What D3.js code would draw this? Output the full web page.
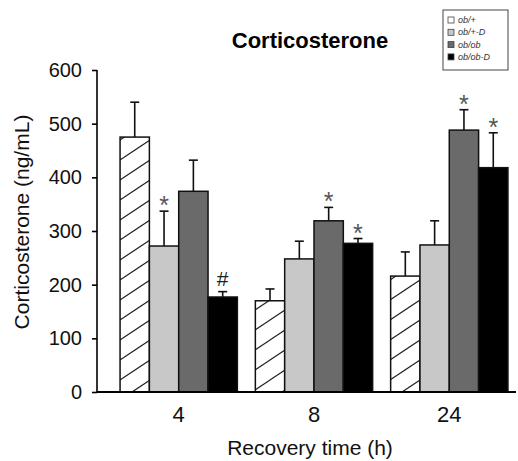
<!DOCTYPE html>
<html>
<head>
<meta charset="utf-8">
<script src="https://cdn.jsdelivr.net/npm/d3@7"></script>
<style>
  body { margin: 0; background: #fff; }
  svg { font-family: "Liberation Sans", Arial, sans-serif; }
</style>
</head>
<body>
<svg width="518" height="461"></svg>
<script>
const svg = d3.select("svg");
const width = +svg.attr("width");
const height = +svg.attr("height");

// data
const times = ["4", "8", "24"];
const series = ["ob/+", "ob/+-D", "ob/ob", "ob/ob-D"];
const means = {
  "ob/+":    [475, 170, 216],
  "ob/+-D":  [272, 248, 274],
  "ob/ob":   [374, 319, 488],
  "ob/ob-D": [177, 277, 418]
};
const errors = {
  "ob/+":    [65, 22, 45],
  "ob/+-D":  [65, 33, 45],
  "ob/ob":   [58, 25, 38],
  "ob/ob-D": [10, 9, 65]
};
const marks = {
  "ob/+":    ["", "", ""],
  "ob/+-D":  ["*", "", ""],
  "ob/ob":   ["", "*", "*"],
  "ob/ob-D": ["#", "*", "*"]
};
const yTicks = [0, 100, 200, 300, 400, 500, 600];

const fills = {
  "ob/+": "url(#hatch)",
  "ob/+-D": "#c8c8c8",
  "ob/ob": "#6a6a6a",
  "ob/ob-D": "#000"
};

const plotLeft = 97, plotRight = 516, plotTop = 70, plotBottom = 392;

const x = d3.scaleBand()
  .domain(times)
  .range([111, 517])
  .paddingInner(0.133)
  .paddingOuter(0.067);
const xSub = d3.scaleBand()
  .domain(series)
  .range([0, x.bandwidth()]);
const y = d3.scaleLinear()
  .domain([0, 600])
  .range([plotBottom, plotTop]);

// hatch pattern
const defs = svg.append("defs");
const pat = defs.append("pattern")
  .attr("id", "hatch")
  .attr("patternUnits", "userSpaceOnUse")
  .attr("width", 30)
  .attr("height", 20);
pat.append("rect").attr("width", 30).attr("height", 20).attr("fill", "#fff");
["M-30,40L60,-20", "M-30,20L60,-40", "M-30,60L60,0"].forEach(d => {
  pat.append("path").attr("d", d).attr("stroke", "#222").attr("stroke-width", 1.2);
});

// rows: one per bar
const rows = [];
times.forEach((t, i) => {
  series.forEach(s => {
    rows.push({ time: t, series: s, mean: means[s][i], err: errors[s][i], mark: marks[s][i] });
  });
});

const bars = svg.append("g");
bars.selectAll("rect")
  .data(rows)
  .enter()
  .append("rect")
  .attr("x", d => x(d.time) + xSub(d.series))
  .attr("y", d => y(d.mean))
  .attr("width", xSub.bandwidth())
  .attr("height", d => y(0) - y(d.mean))
  .attr("fill", d => fills[d.series])
  .attr("stroke", "#111")
  .attr("stroke-width", 1.5);

// error bars
const eb = svg.append("g").attr("stroke", "#111").attr("stroke-width", 1.6);
eb.selectAll("line.v")
  .data(rows)
  .enter()
  .append("line")
  .attr("class", "v")
  .attr("x1", d => x(d.time) + xSub(d.series) + xSub.bandwidth() / 2)
  .attr("x2", d => x(d.time) + xSub(d.series) + xSub.bandwidth() / 2)
  .attr("y1", d => y(d.mean))
  .attr("y2", d => y(d.mean + d.err));
eb.selectAll("line.c")
  .data(rows)
  .enter()
  .append("line")
  .attr("class", "c")
  .attr("x1", d => x(d.time) + xSub(d.series) + xSub.bandwidth() / 2 - 4.5)
  .attr("x2", d => x(d.time) + xSub(d.series) + xSub.bandwidth() / 2 + 4.5)
  .attr("y1", d => y(d.mean + d.err))
  .attr("y2", d => y(d.mean + d.err));

// significance marks
svg.append("g")
  .selectAll("text")
  .data(rows.filter(d => d.mark))
  .enter()
  .append("text")
  .attr("x", d => x(d.time) + xSub(d.series) + xSub.bandwidth() / 2)
  .attr("y", d => y(d.mean + d.err) - (d.mark === "#" ? 6 : -3))
  .attr("text-anchor", "middle")
  .attr("font-size", d => d.mark === "#" ? 21 : 25)
  .attr("fill", d => d.mark === "#" ? "#222" : "#555")
  .text(d => d.mark);

// y axis
const yAxis = svg.append("g")
  .attr("transform", `translate(${plotLeft},0)`)
  .call(d3.axisLeft(y).tickValues(yTicks).tickSize(5).tickSizeOuter(0).tickPadding(10));
yAxis.selectAll("path, line").attr("stroke", "#000").attr("stroke-width", 1.6);
yAxis.selectAll("text").attr("font-size", 20).attr("fill", "#111");
yAxis.select(".domain").attr("d", `M0,${plotTop}V${plotBottom}`);

// x axis
const xAxis = svg.append("g")
  .attr("transform", `translate(0,${plotBottom})`)
  .call(d3.axisBottom(x).tickSize(0).tickPadding(14));
xAxis.select(".domain").remove();
xAxis.selectAll("text").attr("font-size", 22).attr("fill", "#111");
svg.append("line")
  .attr("x1", plotLeft).attr("x2", plotRight)
  .attr("y1", plotBottom).attr("y2", plotBottom)
  .attr("stroke", "#000").attr("stroke-width", 2);

// titles
svg.append("text")
  .attr("x", 310).attr("y", 48)
  .attr("text-anchor", "middle")
  .attr("font-size", 22).attr("font-weight", "bold")
  .text("Corticosterone");
svg.append("text")
  .attr("x", 310).attr("y", 455)
  .attr("text-anchor", "middle")
  .attr("font-size", 21).attr("fill", "#111")
  .text("Recovery time (h)");
svg.append("text")
  .attr("transform", "translate(29,222) rotate(-90)")
  .attr("text-anchor", "middle")
  .attr("font-size", 21).attr("fill", "#111")
  .text("Corticosterone (ng/mL)");

// legend
const legend = svg.append("g").attr("transform", "translate(443,10)");
legend.append("rect")
  .attr("width", 65).attr("height", 60)
  .attr("fill", "#fff").attr("stroke", "#444").attr("stroke-width", 1);
const item = legend.selectAll("g")
  .data(series)
  .enter()
  .append("g")
  .attr("transform", (d, i) => `translate(5, ${10 + i * 12.3})`);
item.append("rect")
  .attr("x", 0).attr("y", -3)
  .attr("width", 6).attr("height", 6)
  .attr("fill", d => d === "ob/+" ? "#fff" : fills[d])
  .attr("stroke", "#444").attr("stroke-width", 0.8);
item.append("text")
  .attr("x", 10).attr("y", 3)
  .attr("font-size", 9).attr("font-style", "italic").attr("fill", "#333")
  .text(d => d);
</script>
</body>
</html>
